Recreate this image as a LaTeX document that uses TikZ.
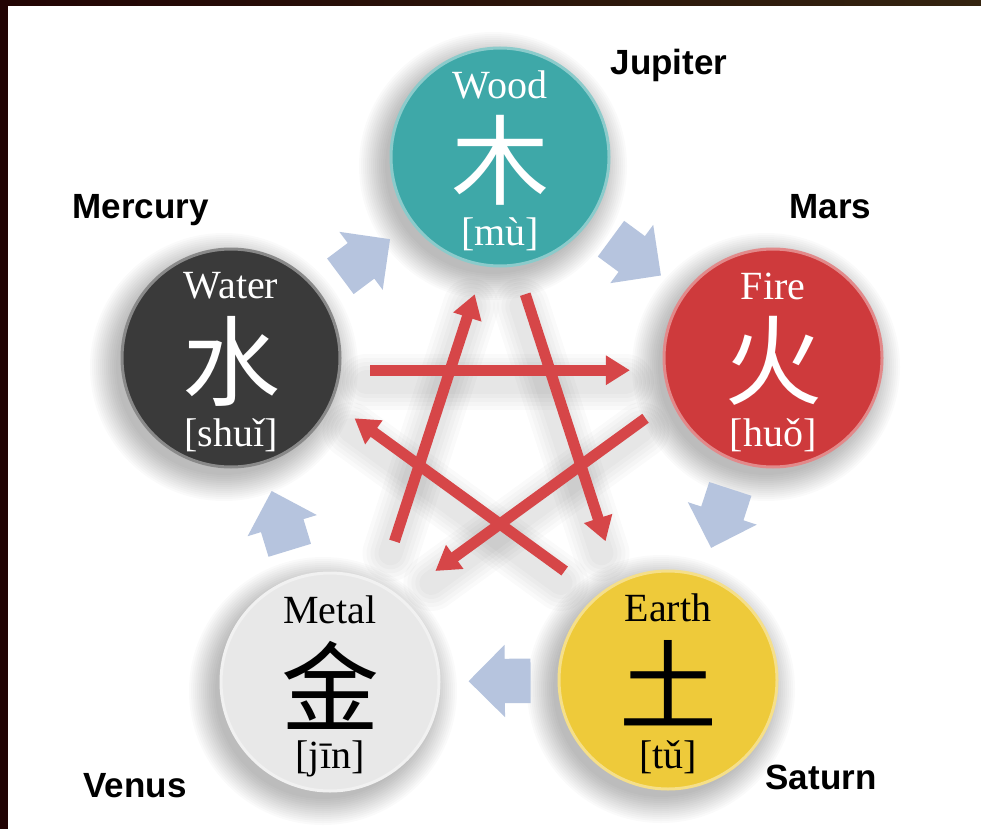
\documentclass[tikz,border=0pt]{standalone}
\usepackage{fontspec}
\setmainfont{Liberation Serif}
\newfontfamily\cjk{Noto Sans CJK SC}
\newfontfamily\planetfont{Liberation Sans}
\usetikzlibrary{arrows.meta,calc,shapes.arrows}

\definecolor{woodc}{RGB}{62,168,168}
\definecolor{firec}{RGB}{206,58,60}
\definecolor{earthc}{RGB}{238,202,58}
\definecolor{metalc}{RGB}{232,232,232}
\definecolor{waterc}{RGB}{58,58,58}
\definecolor{flowc}{RGB}{182,196,222}
\definecolor{kec}{RGB}{214,70,72}
\definecolor{frameA}{RGB}{34,4,4}
\definecolor{frameB}{RGB}{52,36,16}

\begin{document}
\begin{tikzpicture}[x=1pt, y=-1pt,
  elem/.style={circle, minimum size=218pt, inner sep=0pt},
  title/.style={font=\fontsize{40}{44}\selectfont},
  glyph/.style={font=\cjk\fontsize{98}{100}\selectfont},
  planet/.style={anchor=base west, font=\planetfont\bfseries\fontsize{35}{40}\selectfont},
  flow/.style={single arrow, fill=flowc, minimum height=62pt, minimum width=0pt,
    inner xsep=0pt, inner ysep=22pt, single arrow head extend=14pt, sloped, allow upside down},
  ke/.style={line width=11pt, draw=kec, -{Triangle[length=24pt, width=28pt]}}]
  \useasboundingbox (0,0) rectangle (981,829);
  \fill[white] (0,0) rectangle (981,829);
  \shade[left color=frameA, right color=frameB] (0,0) rectangle (981,6);
  \fill[frameA] (0,0) rectangle (8,829);

  % soft shadows
  \foreach \x/\y in {500/157, 773/358, 668/680, 330/682, 231/358}
    \foreach \k in {0,...,13}
      \fill[black, opacity=0.018] (\x-7,\y+9) circle ({108+2*\k});

  % elements
  \foreach \n/\x/\y/\c/\tc/\ttl/\ch/\py in {wood/500/157/woodc/white/Wood/木/{[mù]},
      fire/773/358/firec/white/Fire/火/{[huǒ]}, earth/668/680/earthc/black/Earth/土/{[tǔ]},
      metal/330/682/metalc/black/Metal/金/{[jīn]}, water/231/358/waterc/white/Water/水/{[shuǐ]}} {
    \node[elem, fill=\c, draw=\c!60!white, line width=3pt] (\n) at (\x,\y) {};
    \node[title, text=\tc] (\n-t) at ($(\n)+(0,-72)$) {\ttl};
    \node[glyph, text=\tc] (\n-c) at ($(\n)+(0,3)$) {\ch};
    \node[title, text=\tc] (\n-p) at ($(\n)+(0,77)$) {\py};
  }

  % generating cycle
  \foreach \a/\b in {water/wood, wood/fire, fire/earth, earth/metal, metal/water}
    \path (\a) -- node[flow, pos=0.4] (\a-\b) {} (\b);

  % overcoming star
  \coordinate (hub) at (500,439);
  \foreach \i/\a in {1/234, 2/306, 3/18, 4/90, 5/162}
    \coordinate (v\i) at ($(hub)+(\a:85)$);
  \foreach \i/\j in {1/2, 2/3, 3/4, 4/5, 5/1} {
    \coordinate (s\i) at ($(v\i)!-0.8!(v\j)$);
    \coordinate (t\i) at ($(v\i)!1.8!(v\j)$);
  }
  \foreach \w in {56,48,40,32,24}
    \foreach \i in {1,...,5}
      \draw[line width=\w pt, line cap=round, black, opacity=0.018] ($(s\i)+(-4,12)$) -- ($(t\i)+(-4,12)$);
  \foreach \i in {1,...,5}
    \draw[ke] (s\i) -- (t\i);

  % planets
  \node[planet] (jupiter) at (607,75) {Jupiter};
  \node[planet] (mars) at (786,218) {Mars};
  \node[planet] (saturn) at (762,789) {Saturn};
  \node[planet] (venus) at (80,797) {Venus};
  \node[planet] (mercury) at (69,218) {Mercury};
\end{tikzpicture}
\end{document}
